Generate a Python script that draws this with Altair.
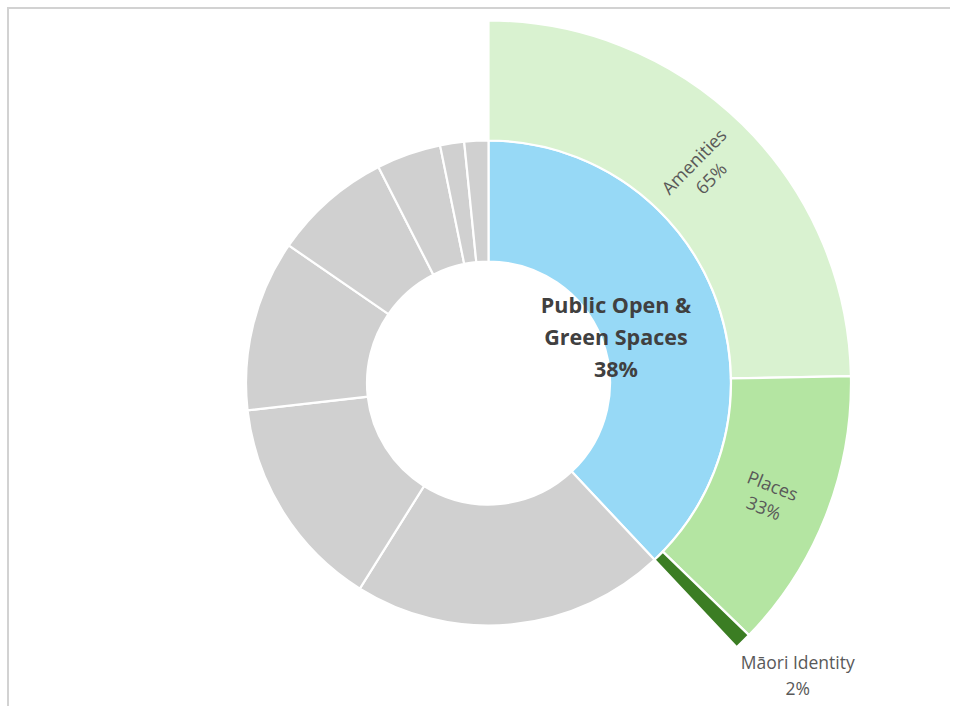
import math
import altair as alt
import pandas as pd

# ---- data ----
inner_names = ["Public Open & Green Spaces", "Other 1", "Other 2", "Other 3",
               "Other 4", "Other 5", "Other 6", "Other 7"]
inner_values = [38, 20.9, 14.3, 11.4, 7.9, 4.3, 1.6, 1.6]   # % of total

outer_names = ["Amenities", "Places", "Māori Identity"]
outer_shares = [65, 33, 2]                            # % of Public Open & Green Spaces

# ---- styles ----
inner_colors = ["#97D9F6"] + ["#D0D0D0"] * 7
outer_colors = ["#D9F2D0", "#B4E5A2", "#3B7D23"]
CX, CY = 488.5, 383
FONT = "Open Sans"

# ---- derived tables ----
inner = pd.DataFrame({"name": inner_names, "value": inner_values})
inner["end"] = inner["value"].cumsum()
inner["start"] = inner["end"] - inner["value"]
inner["mid"] = (inner["start"] + inner["end"]) / 2

parent_value = inner_values[0]
outer = pd.DataFrame({"name": outer_names, "share": outer_shares})
outer["value"] = outer["share"] * parent_value / 100
outer["end"] = outer["value"].cumsum()
outer["start"] = outer["end"] - outer["value"]
outer["mid"] = (outer["start"] + outer["end"]) / 2
outer["txt"] = outer["name"] + "\n" + outer["share"].astype(str) + "%"
outer["rot"] = (outer["mid"] * 3.6 - 90) % 360

center = inner.iloc[[0]].copy()
center["txt"] = "Public Open &\nGreen Spaces\n" + center["value"].astype(int).astype(str) + "%"

theta_scale = alt.Scale(domain=[0, 100], range=[0, 2 * math.pi])
color_scale = alt.Scale(domain=inner_names + outer_names,
                        range=inner_colors + outer_colors)

def arcs(df, r0, r1):
    return alt.Chart(df).mark_arc(
        innerRadius=r0, outerRadius=r1, stroke="white", strokeWidth=2.2
    ).encode(
        theta=alt.Theta("start:Q", scale=theta_scale, stack=None),
        theta2="end:Q",
        color=alt.Color("name:N", scale=color_scale, legend=None),
        x=alt.value(CX), y=alt.value(CY),
    )

inner_arcs = arcs(inner, 121.5, 242.5)
outer_arcs = arcs(outer, 242.5, 362.5)

center_text = alt.Chart(center).mark_text(
    radius=136, dx=1, dy=-26, font=FONT, fontSize=21.5, fontWeight="bold",
    color="#404040", lineBreak="\n", lineHeight=32, align="center", baseline="middle"
).encode(
    theta=alt.Theta("mid:Q", scale=theta_scale, stack=None),
    text="txt:N", x=alt.value(CX), y=alt.value(CY),
)

ring_text = alt.Chart(outer.iloc[:2]).mark_text(
    radius=302, dy=-7, font=FONT, fontSize=18, color="#595959",
    lineBreak="\n", lineHeight=24, align="center", baseline="middle"
).encode(
    theta=alt.Theta("mid:Q", scale=theta_scale, stack=None),
    angle=alt.Angle("rot:Q", scale=None),
    text="txt:N", x=alt.value(CX), y=alt.value(CY),
)

maori_text = alt.Chart(outer.iloc[2:]).mark_text(
    radius=425, dx=11, dy=-22, font=FONT, fontSize=17.5, color="#595959",
    lineBreak="\n", lineHeight=26, align="center", baseline="middle"
).encode(
    theta=alt.Theta("mid:Q", scale=theta_scale, stack=None),
    text="txt:N", x=alt.value(CX), y=alt.value(CY),
)

frame_df = pd.DataFrame({"k": [0]})
top_rule = alt.Chart(frame_df).mark_rule(color="#D2D2D2", strokeWidth=2).encode(
    x=alt.value(7), x2=alt.value(960), y=alt.value(8))
left_rule = alt.Chart(frame_df).mark_rule(color="#D2D2D2", strokeWidth=2).encode(
    x=alt.value(8), y=alt.value(7), y2=alt.value(720))

chart = alt.layer(
    top_rule, left_rule, inner_arcs, outer_arcs, center_text, ring_text, maori_text
).properties(
    width=950, height=706, padding=0,
    autosize=alt.AutoSizeParams(type="none"),
    background="white",
).configure_view(stroke=None)

chart.save("out.html", embed_options={"renderer": "svg", "actions": False})
